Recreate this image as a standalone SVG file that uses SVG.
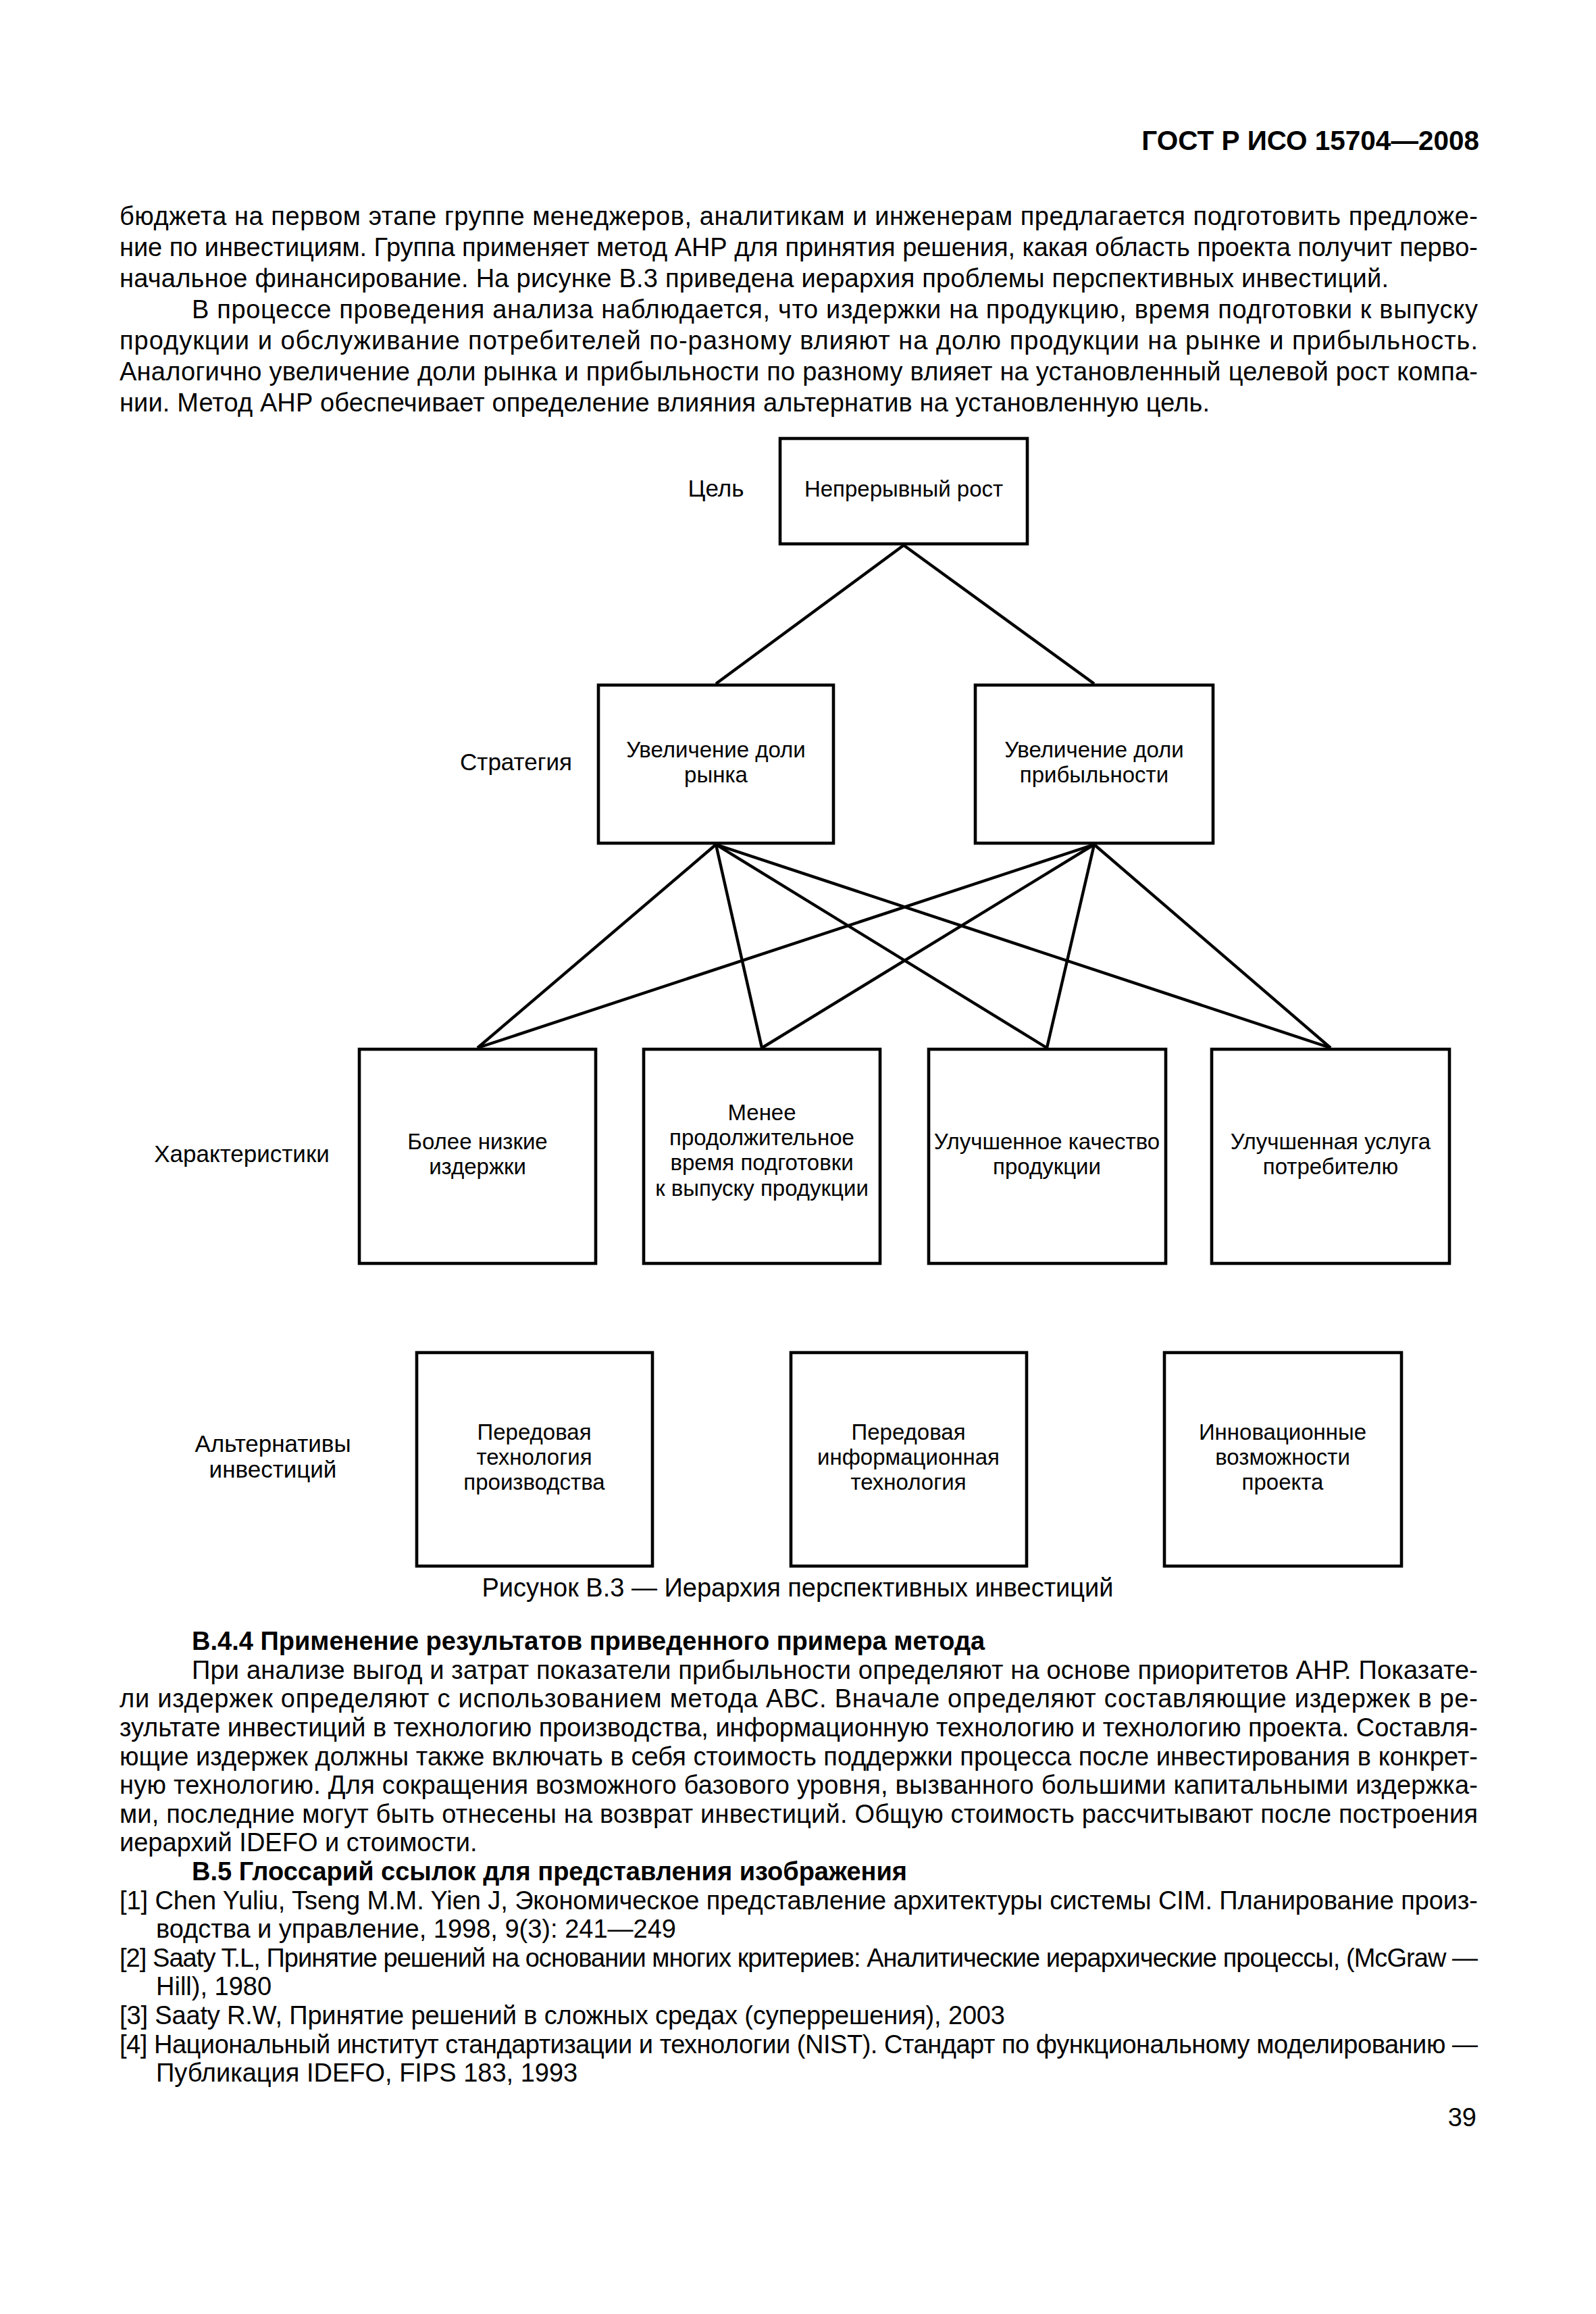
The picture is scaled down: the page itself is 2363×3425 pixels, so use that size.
<svg xmlns="http://www.w3.org/2000/svg" width="2363" height="3425" viewBox="0 0 2363 3425">
<style>
.bg{fill:#fff}
.t{font-family:"Liberation Sans",Arial,sans-serif;font-size:38px;fill:#000}
.b{font-family:"Liberation Sans",Arial,sans-serif;font-size:38px;font-weight:bold;fill:#000}
.h{font-family:"Liberation Sans",Arial,sans-serif;font-size:40.5px;font-weight:bold;fill:#000}
.n{font-family:"Liberation Sans",Arial,sans-serif;font-size:33px;fill:#000;text-anchor:middle}
.lv{font-family:"Liberation Sans",Arial,sans-serif;font-size:35px;fill:#000;text-anchor:middle}
.box{fill:#fff;stroke:#000;stroke-width:4.6}
.ln{stroke:#000;stroke-width:4.4;fill:none}
</style>
<rect class="bg" x="0" y="0" width="2363" height="3425"/>
<text class="h" x="2190" y="222" text-anchor="end">ГОСТ Р ИСО 15704—2008</text>
<g id="text-top">
<text class="t" x="177" y="333" textLength="2011" lengthAdjust="spacing">бюджета на первом этапе группе менеджеров, аналитикам и инженерам предлагается подготовить предложе-</text>
<text class="t" x="177" y="379" textLength="2011" lengthAdjust="spacing">ние по инвестициям. Группа применяет метод АНР для принятия решения, какая область проекта получит перво-</text>
<text class="t" x="177" y="425" textLength="1879" lengthAdjust="spacing">начальное финансирование. На рисунке В.3 приведена иерархия проблемы перспективных инвестиций.</text>
<text class="t" x="284" y="471" textLength="1904" lengthAdjust="spacing">В процессе проведения анализа наблюдается, что издержки на продукцию, время подготовки к выпуску</text>
<text class="t" x="177" y="517" textLength="2011" lengthAdjust="spacing">продукции и обслуживание потребителей по-разному влияют на долю продукции на рынке и прибыльность.</text>
<text class="t" x="177" y="563" textLength="2011" lengthAdjust="spacing">Аналогично увеличение доли рынка и прибыльности по разному влияет на установленный целевой рост компа-</text>
<text class="t" x="177" y="609" textLength="1614" lengthAdjust="spacing">нии. Метод АНР обеспечивает определение влияния альтернатив на установленную цель.</text>
</g>
<g id="connectors">
<line class="ln" x1="1338" y1="807" x2="1060" y2="1012"/>
<line class="ln" x1="1338" y1="807" x2="1620" y2="1012"/>
<line class="ln" x1="1060" y1="1250" x2="707" y2="1551"/>
<line class="ln" x1="1060" y1="1250" x2="1128" y2="1551"/>
<line class="ln" x1="1060" y1="1250" x2="1550" y2="1551"/>
<line class="ln" x1="1060" y1="1250" x2="1970" y2="1551"/>
<line class="ln" x1="1620" y1="1250" x2="707" y2="1551"/>
<line class="ln" x1="1620" y1="1250" x2="1128" y2="1551"/>
<line class="ln" x1="1620" y1="1250" x2="1550" y2="1551"/>
<line class="ln" x1="1620" y1="1250" x2="1970" y2="1551"/>
</g>
<g id="level-labels">
<text class="lv" x="1060" y="735">Цель</text>
<text class="lv" x="764" y="1140">Стратегия</text>
<text class="lv" x="358" y="1720">Характеристики</text>
<text class="lv" x="404" y="2149">Альтернативы</text>
<text class="lv" x="404" y="2187">инвестиций</text>
</g>
<g id="goal">
<rect class="box" x="1155" y="649" width="366" height="156"/>
<text class="n" x="1338" y="735">Непрерывный рост</text>
</g>
<g id="strategy-market">
<rect class="box" x="886" y="1014" width="348" height="234"/>
<text class="n" x="1060" y="1121">Увеличение доли</text>
<text class="n" x="1060" y="1158">рынка</text>
</g>
<g id="strategy-profit">
<rect class="box" x="1444" y="1014" width="352" height="234"/>
<text class="n" x="1620" y="1121">Увеличение доли</text>
<text class="n" x="1620" y="1158">прибыльности</text>
</g>
<g id="char-costs">
<rect class="box" x="532" y="1553" width="350" height="317"/>
<text class="n" x="707" y="1701">Более низкие</text>
<text class="n" x="707" y="1738">издержки</text>
</g>
<g id="char-time">
<rect class="box" x="953" y="1553" width="350" height="317"/>
<text class="n" x="1128" y="1658">Менее</text>
<text class="n" x="1128" y="1695">продолжительное</text>
<text class="n" x="1128" y="1732">время подготовки</text>
<text class="n" x="1128" y="1770">к выпуску продукции</text>
</g>
<g id="char-quality">
<rect class="box" x="1375" y="1553" width="351" height="317"/>
<text class="n" x="1550" y="1701">Улучшенное качество</text>
<text class="n" x="1550" y="1738">продукции</text>
</g>
<g id="char-service">
<rect class="box" x="1794" y="1553" width="352" height="317"/>
<text class="n" x="1970" y="1701">Улучшенная услуга</text>
<text class="n" x="1970" y="1738">потребителю</text>
</g>
<g id="alt-production">
<rect class="box" x="617" y="2002" width="349" height="316"/>
<text class="n" x="791" y="2131">Передовая</text>
<text class="n" x="791" y="2168">технология</text>
<text class="n" x="791" y="2205">производства</text>
</g>
<g id="alt-it">
<rect class="box" x="1171" y="2002" width="349" height="316"/>
<text class="n" x="1345" y="2131">Передовая</text>
<text class="n" x="1345" y="2168">информационная</text>
<text class="n" x="1345" y="2205">технология</text>
</g>
<g id="alt-innovation">
<rect class="box" x="1724" y="2002" width="351" height="316"/>
<text class="n" x="1899" y="2131">Инновационные</text>
<text class="n" x="1899" y="2168">возможности</text>
<text class="n" x="1899" y="2205">проекта</text>
</g>
<text class="t" x="1181" y="2363" text-anchor="middle">Рисунок В.3 — Иерархия перспективных инвестиций</text>
<g id="text-bottom">
<text class="b" x="284" y="2442">В.4.4 Применение результатов приведенного примера метода</text>
<text class="t" x="284" y="2485" textLength="1904" lengthAdjust="spacing">При анализе выгод и затрат показатели прибыльности определяют на основе приоритетов АНР. Показате-</text>
<text class="t" x="177" y="2527" textLength="2011" lengthAdjust="spacing">ли издержек определяют с использованием метода АВС. Вначале определяют составляющие издержек в ре-</text>
<text class="t" x="177" y="2570" textLength="2011" lengthAdjust="spacing">зультате инвестиций в технологию производства, информационную технологию и технологию проекта.  Составля-</text>
<text class="t" x="177" y="2613" textLength="2011" lengthAdjust="spacing">ющие издержек должны также включать в себя стоимость поддержки процесса после инвестирования в конкрет-</text>
<text class="t" x="177" y="2655" textLength="2011" lengthAdjust="spacing">ную технологию. Для сокращения возможного базового уровня, вызванного большими капитальными издержка-</text>
<text class="t" x="177" y="2698" textLength="2011" lengthAdjust="spacing">ми, последние могут быть отнесены на возврат инвестиций. Общую стоимость рассчитывают после построения</text>
<text class="t" x="177" y="2740">иерархий IDEFO и стоимости.</text>
<text class="b" x="284" y="2783">В.5 Глоссарий ссылок для представления изображения</text>
<text class="t" x="177" y="2826" textLength="2011" lengthAdjust="spacing">[1] Chen Yuliu, Tseng M.M. Yien J, Экономическое представление архитектуры системы CIM. Планирование произ-</text>
<text class="t" x="231" y="2868">водства и управление, 1998, 9(3): 241—249</text>
<text class="t" x="177" y="2911" textLength="2011" lengthAdjust="spacing">[2] Saaty T.L, Принятие решений на основании многих критериев: Аналитические иерархические процессы, (McGraw —</text>
<text class="t" x="231" y="2953">Hill), 1980</text>
<text class="t" x="177" y="2996" textLength="1311" lengthAdjust="spacing">[3] Saaty R.W, Принятие решений в сложных средах (суперрешения), 2003</text>
<text class="t" x="177" y="3039" textLength="2011" lengthAdjust="spacing">[4] Национальный институт стандартизации и технологии (NIST). Стандарт по функциональному моделированию —</text>
<text class="t" x="231" y="3081">Публикация IDEFO, FIPS 183, 1993</text>
<text class="t" x="2186" y="3147" text-anchor="end">39</text>
</g>
</svg>
